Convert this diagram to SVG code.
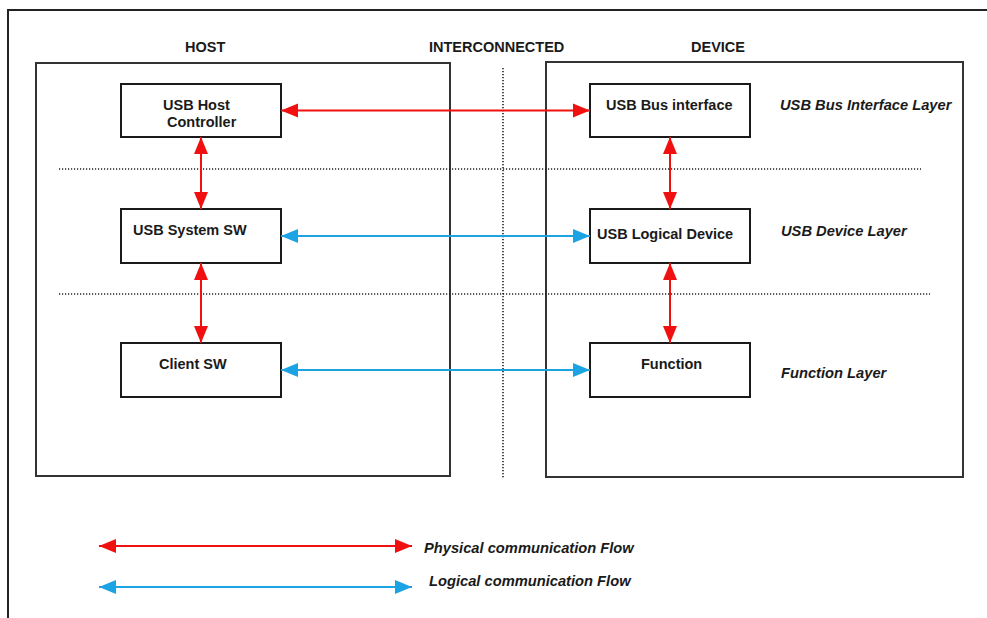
<svg xmlns="http://www.w3.org/2000/svg" width="987" height="618" viewBox="0 0 987 618">
  <style>
    text { font-family: "Liberation Sans", Arial, sans-serif; fill: #1a1a1a; font-weight: bold; font-size: 14.5px; }
    .lay { font-style: italic; font-size: 14.7px; }
    .leg { font-style: italic; font-size: 14.7px; }
    .box { fill: #fff; stroke: #1a1a1a; stroke-width: 2; }
    .frame { fill: none; stroke: #333; stroke-width: 2; }
    .dot { fill: none; stroke: #222; stroke-width: 1.6; stroke-dasharray: 1.2 1.8; }
    .phys { stroke: #f01010; stroke-width: 2; fill: none; marker-start: url(#ar); marker-end: url(#ar); }
    .logi { stroke: #1ba3e3; stroke-width: 2; fill: none; marker-start: url(#ab); marker-end: url(#ab); }
  </style>
  <defs>
    <marker id="ar" markerUnits="userSpaceOnUse" markerWidth="18" markerHeight="16" viewBox="0 0 18 16" refX="17" refY="8" orient="auto-start-reverse">
      <path d="M0,1 L17,8 L0,15 z" fill="#f01010"/>
    </marker>
    <marker id="ab" markerUnits="userSpaceOnUse" markerWidth="18" markerHeight="16" viewBox="0 0 18 16" refX="17" refY="8" orient="auto-start-reverse">
      <path d="M0,1 L17,8 L0,15 z" fill="#1ba3e3"/>
    </marker>
  </defs>
  <rect width="987" height="618" fill="#fff"/>

  <polyline points="8,618 8,10 987,10" fill="none" stroke="#222" stroke-width="2"/>

  <g id="host">
    <rect class="frame" x="36" y="63" width="414" height="413"/>
    <text x="185" y="52">HOST</text>
  </g>
  <g id="interconnected">
    <text x="429" y="52">INTERCONNECTED</text>
    <line class="dot" x1="503" y1="68" x2="503" y2="478"/>
  </g>
  <g id="device">
    <rect class="frame" x="546" y="62" width="417" height="415"/>
    <text x="691" y="52">DEVICE</text>
  </g>

  <g id="layer-dividers">
    <line class="dot" x1="59" y1="169" x2="921" y2="169"/>
    <line class="dot" x1="59" y1="294" x2="930" y2="294"/>
  </g>

  <g id="usb-host-controller">
    <rect class="box" x="121" y="84" width="160" height="53"/>
    <text x="163" y="110">USB Host</text>
    <text x="167" y="127">Controller</text>
  </g>
  <g id="usb-system-sw">
    <rect class="box" x="121" y="209" width="160" height="54"/>
    <text x="133" y="235">USB System SW</text>
  </g>
  <g id="client-sw">
    <rect class="box" x="121" y="343" width="160" height="54"/>
    <text x="159" y="369">Client SW</text>
  </g>
  <g id="usb-bus-interface">
    <rect class="box" x="590" y="84" width="160" height="53"/>
    <text x="606" y="110">USB Bus interface</text>
  </g>
  <g id="usb-logical-device">
    <rect class="box" x="590" y="209" width="160" height="54"/>
    <text x="597" y="239">USB Logical Device</text>
  </g>
  <g id="function">
    <rect class="box" x="590" y="343" width="160" height="54"/>
    <text x="641" y="369">Function</text>
  </g>

  <g id="layer-labels">
    <text class="lay" x="780" y="110">USB Bus Interface Layer</text>
    <text class="lay" x="781" y="236">USB Device Layer</text>
    <text class="lay" x="781" y="378">Function Layer</text>
  </g>

  <g id="connectors">
    <line class="phys" x1="281" y1="110.5" x2="590" y2="110.5"/>
    <line class="logi" x1="281" y1="236" x2="590" y2="236"/>
    <line class="logi" x1="281" y1="370" x2="590" y2="370"/>
    <line class="phys" x1="201" y1="137" x2="201" y2="209"/>
    <line class="phys" x1="201" y1="263" x2="201" y2="343"/>
    <line class="phys" x1="670" y1="137" x2="670" y2="209"/>
    <line class="phys" x1="670" y1="263" x2="670" y2="343"/>
  </g>

  <g id="legend">
    <line class="phys" x1="99" y1="546" x2="412" y2="546"/>
    <line class="logi" x1="99" y1="587" x2="412" y2="587"/>
    <text class="leg" x="424" y="553">Physical communication Flow</text>
    <text class="leg" x="429" y="586">Logical communication Flow</text>
  </g>
</svg>
